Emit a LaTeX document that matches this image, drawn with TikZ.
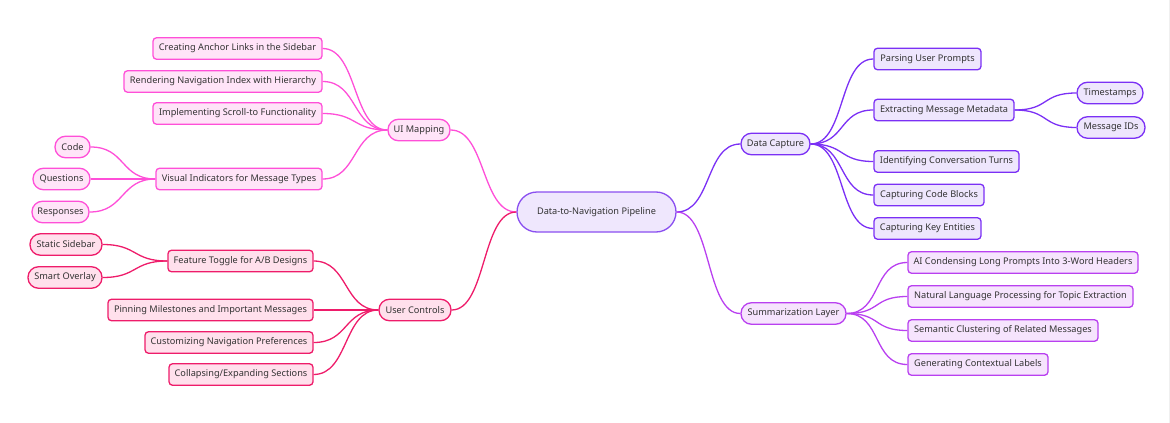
\documentclass[tikz,border=0pt]{standalone}
\usepackage{fontspec}
\setmainfont{Noto Sans}
\begin{document}
\begin{tikzpicture}[x=1pt,y=-1pt,
  txt/.style={text=black!80, font=\fontsize{9.2}{11}\selectfont, inner sep=0pt, minimum height=21.5pt, line width=1.3pt, align=center},
  pill/.style={txt, rounded corners=10.5pt},
  rbox/.style={txt, rounded corners=3.5pt},
  cpur/.style={draw=cpurD, fill=cpurL},
  cmag/.style={draw=cmagD, fill=cmagL},
  ccri/.style={draw=ccriD, fill=ccriL},
  cvio/.style={draw=cvioD, fill=cvioL},
  corc/.style={draw=corcD, fill=corcL},
  edge/.style={line width=1.3pt},
]
\definecolor{cpurD}{HTML}{8A4FF0}\definecolor{cpurL}{HTML}{EFE7FD}
\definecolor{cmagD}{HTML}{FF4FD8}\definecolor{cmagL}{HTML}{FFE4F8}
\definecolor{ccriD}{HTML}{EE1C6A}\definecolor{ccriL}{HTML}{FFE0EC}
\definecolor{cvioD}{HTML}{7B30F5}\definecolor{cvioL}{HTML}{EEE6FD}
\definecolor{corcD}{HTML}{B940F0}\definecolor{corcL}{HTML}{F6E4FD}
\useasboundingbox (0,0) rectangle (1170,423);
\draw[black!6, line width=0.8pt] (1169,0) -- (1169,423);

% centre
\node[txt, cpur, rounded corners=20pt, minimum width=159pt, minimum height=40pt] (root) at (596.5,212) {Data-to-Navigation Pipeline};

% level 1
\node[pill, cmag, minimum width=62pt] (ui) at (419,130) {UI Mapping};
\node[pill, ccri, minimum width=72pt] (uc) at (415,310) {User Controls};
\node[pill, cvio, minimum width=69pt] (dc) at (775.5,144) {Data Capture};
\node[pill, corc, minimum width=105pt] (sl) at (793.5,313.5) {Summarization Layer};

% UI mapping children
\node[rbox, cmag, minimum width=169pt] (u1) at (237.5,48.5) {Creating Anchor Links in the Sidebar};
\node[rbox, cmag, minimum width=198pt] (u2) at (223,81.5) {Rendering Navigation Index with Hierarchy};
\node[rbox, cmag, minimum width=169pt] (u3) at (237.5,113.5) {Implementing Scroll-to Functionality};
\node[rbox, cmag, minimum width=166pt] (u4) at (239,179) {Visual Indicators for Message Types};
\node[pill, cmag, minimum width=35pt] (v1) at (72.5,147) {Code};
\node[pill, cmag, minimum width=57pt] (v2) at (61.5,179) {Questions};
\node[pill, cmag, minimum width=57pt] (v3) at (60.5,212) {Responses};

% user controls children
\node[rbox, ccri, minimum width=145pt] (c1) at (240.5,261) {Feature Toggle for A/B Designs};
\node[pill, ccri, minimum width=72pt] (f1) at (66,244.5) {Static Sidebar};
\node[pill, ccri, minimum width=74pt] (f2) at (65,277.5) {Smart Overlay};
\node[rbox, ccri, minimum width=205pt] (c2) at (210.5,310) {Pinning Milestones and Important Messages};
\node[rbox, ccri, minimum width=168pt] (c3) at (229,342.5) {Customizing Navigation Preferences};
\node[rbox, ccri, minimum width=144pt] (c4) at (241,374.5) {Collapsing/Expanding Sections};

% data capture children
\node[rbox, cvio, minimum width=107pt] (d1) at (927.5,59) {Parsing User Prompts};
\node[rbox, cvio, minimum width=140pt] (d2) at (944,110) {Extracting Message Metadata};
\node[pill, cvio, minimum width=66pt] (m1) at (1110,93) {Timestamps};
\node[pill, cvio, minimum width=68pt] (m2) at (1111,127.5) {Message IDs};
\node[rbox, cvio, minimum width=145pt] (d3) at (946.5,161.5) {Identifying Conversation Turns};
\node[rbox, cvio, minimum width=110pt] (d4) at (929,195) {Capturing Code Blocks};
\node[rbox, cvio, minimum width=107pt] (d5) at (927.5,228.5) {Capturing Key Entities};

% summarization children
\node[rbox, corc, minimum width=230pt] (s1) at (1023,262.5) {AI Condensing Long Prompts Into 3-Word Headers};
\node[rbox, corc, minimum width=225pt] (s2) at (1020.5,296.5) {Natural Language Processing for Topic Extraction};
\node[rbox, corc, minimum width=190pt] (s3) at (1003,330.5) {Semantic Clustering of Related Messages};
\node[rbox, corc, minimum width=140pt] (s4) at (978,364.5) {Generating Contextual Labels};

% edges
\draw[edge, cmagD] (root.west) .. controls +(-35,0) and +(35,0) .. (ui.east);
\draw[edge, ccriD] (root.west) .. controls +(-35,0) and +(35,0) .. (uc.east);
\draw[edge, cvioD] (root.east) .. controls +(35,0) and +(-35,0) .. (dc.west);
\draw[edge, corcD] (root.east) .. controls +(35,0) and +(-35,0) .. (sl.west);

\foreach \n in {u1,u2,u3,u4}
  \draw[edge, cmagD] (ui.west) .. controls +(-35,0) and +(35,0) .. (\n.east);
\foreach \n in {v1,v2,v3}
  \draw[edge, cmagD] (u4.west) .. controls +(-35,0) and +(35,0) .. (\n.east);
\foreach \n in {c1,c2,c3,c4}
  \draw[edge, ccriD] (uc.west) .. controls +(-35,0) and +(35,0) .. (\n.east);
\foreach \n in {f1,f2}
  \draw[edge, ccriD] (c1.west) .. controls +(-35,0) and +(35,0) .. (\n.east);
\foreach \n in {d1,d2,d3,d4,d5}
  \draw[edge, cvioD] (dc.east) .. controls +(35,0) and +(-35,0) .. (\n.west);
\foreach \n in {m1,m2}
  \draw[edge, cvioD] (d2.east) .. controls +(35,0) and +(-35,0) .. (\n.west);
\foreach \n in {s1,s2,s3,s4}
  \draw[edge, corcD] (sl.east) .. controls +(35,0) and +(-35,0) .. (\n.west);
\end{tikzpicture}
\end{document}
